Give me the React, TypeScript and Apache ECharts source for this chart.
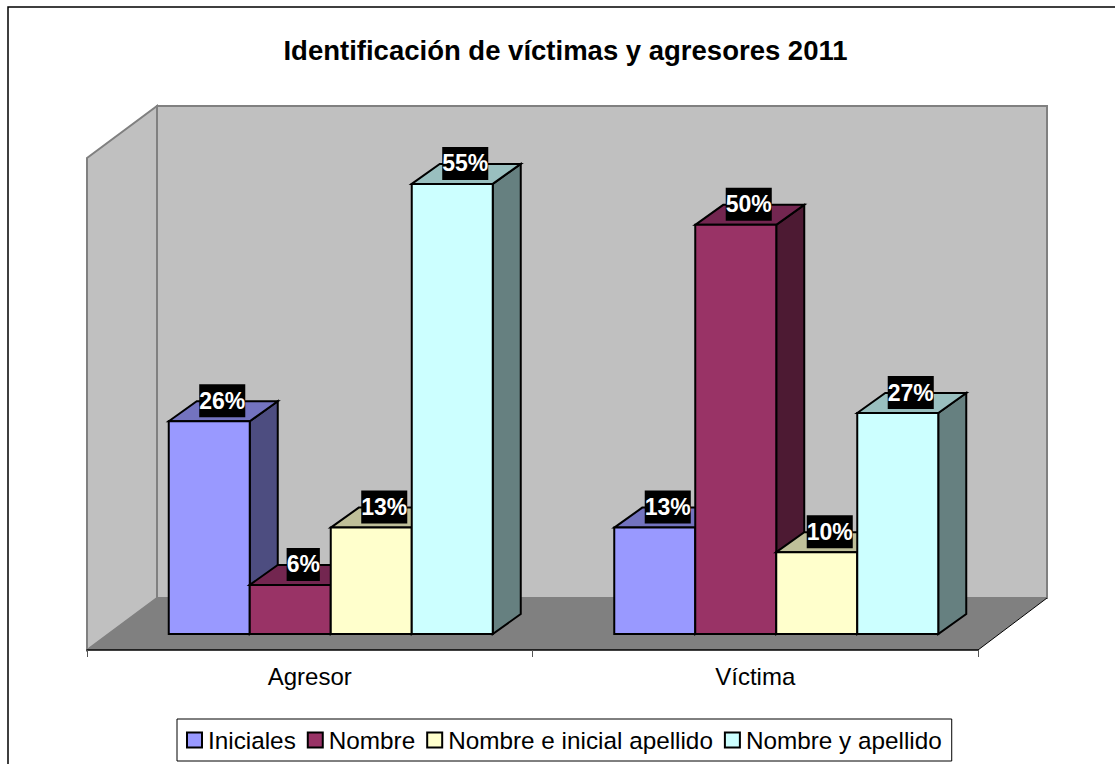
import React, { useEffect, useRef } from "react";
import * as echarts from "echarts";

const title = "Identificación de víctimas y agresores 2011";
const categories = ["Agresor", "Víctima"];
const seriesNames = ["Iniciales", "Nombre", "Nombre e inicial apellido", "Nombre y apellido"];
const iniciales = [26, 13];
const nombre = [6, 50];
const nombreInicial = [13, 10];
const nombreApellido = [55, 27];
const seriesValues = [iniciales, nombre, nombreInicial, nombreApellido];
const colors = ["#9999FF", "#993366", "#FFFFCC", "#CCFFFF"];
const topColors = ["#7373BF", "#732650", "#BFBF99", "#99BFBF"];
const sideColors = ["#4D4D80", "#4D1A33", "#808066", "#668080"];

const FONT = "'Liberation Sans', Arial, sans-serif";
const DX = 28;
const DY = -20;
const BAR_RATIO = 81 / 445.5;

function renderBar(seriesIndex: number) {
  return (_params: any, api: any) => {
    const cat = api.value(0);
    const val = api.value(1);
    const top = api.coord([cat, val]);
    const base = api.coord([cat, 0]);
    const w = api.size([1, 0])[0] * BAR_RATIO;
    const x0 = top[0] + (seriesIndex - 2) * w;
    const x1 = x0 + w;
    const yT = top[1];
    const yB = base[1];
    const stroke = { stroke: "#000", lineWidth: 2, lineJoin: "miter" };
    return {
      type: "group",
      children: [
        {
          type: "polygon",
          shape: { points: [[x1, yT], [x1 + DX, yT + DY], [x1 + DX, yB + DY], [x1, yB]] },
          style: { fill: sideColors[seriesIndex], ...stroke },
        },
        {
          type: "polygon",
          shape: { points: [[x0, yT], [x0 + DX, yT + DY], [x1 + DX, yT + DY], [x1, yT]] },
          style: { fill: topColors[seriesIndex], ...stroke },
        },
        {
          type: "rect",
          shape: { x: x0, y: yT, width: w, height: yB - yT },
          style: { fill: colors[seriesIndex], ...stroke },
        },
        {
          type: "text",
          z2: 100,
          x: (x0 + x1) / 2 + 13,
          y: yT - 20.5,
          style: {
            text: val + "%",
            fill: "#fff",
            font: `bold 23px ${FONT}`,
            align: "center",
            verticalAlign: "middle",
            backgroundColor: "#000",
            padding: [5, 0, 5, 0],
          },
        },
      ],
    };
  };
}

export default function App() {
  const ref = useRef<HTMLDivElement>(null);
  useEffect(() => {
    const chart = echarts.init(ref.current!, undefined, { renderer: "svg" });
    const wall = { fill: "#C0C0C0", stroke: "#808080", lineWidth: 2 };
    chart.setOption({
      animation: false,
      backgroundColor: "#fff",
      title: {
        text: title,
        left: 560.5,
        top: 31,
        textAlign: "center",
        textStyle: { fontFamily: FONT, fontWeight: "bold", fontSize: 27.5, color: "#000" },
      },
      legend: {
        data: seriesNames,
        left: 177,
        top: 719,
        padding: [9, 10, 9, 9],
        itemGap: 11,
        itemWidth: 15,
        itemHeight: 15,
        icon: "rect",
        backgroundColor: "#fff",
        borderColor: "#000",
        borderWidth: 1,
        itemStyle: { borderColor: "#000", borderWidth: 2 },
        textStyle: { fontFamily: FONT, fontSize: 24.3, color: "#000", padding: [0, 0, 0, 1] },
      },
      grid: [
        { left: 87, width: 891, top: 158, height: 492 },
        { left: 108, width: 891, top: 143, height: 491 },
      ],
      xAxis: [
        {
          type: "category",
          gridIndex: 0,
          data: categories,
          axisLine: { show: true, lineStyle: { color: "#000", width: 1.5 } },
          axisTick: { show: true, length: 7, lineStyle: { color: "#555", width: 1 } },
          axisLabel: { fontFamily: FONT, fontSize: 24, color: "#000", margin: 14 },
        },
        {
          type: "category",
          gridIndex: 1,
          data: categories,
          axisLine: { show: false },
          axisTick: { show: false },
          axisLabel: { show: false },
        },
      ],
      yAxis: [
        { type: "value", gridIndex: 0, min: 0, max: 60, show: false },
        { type: "value", gridIndex: 1, min: 0, max: 60, show: false },
      ],
      series: seriesNames.map((name, i) => ({
        name,
        type: "custom",
        xAxisIndex: 1,
        yAxisIndex: 1,
        itemStyle: { color: colors[i] },
        encode: { x: 0, y: 1 },
        data: seriesValues[i].map((v, c) => [c, v]),
        renderItem: renderBar(i),
      })),
      graphic: [
        { type: "rect", z: -5, shape: { x: 8, y: 7, width: 1200, height: 800 }, style: { fill: "#fff", stroke: "#000", lineWidth: 1.5 } },
        { type: "rect", z: -4, shape: { x: 157, y: 106, width: 890, height: 492 }, style: wall },
        { type: "polygon", z: -4, shape: { points: [[87, 158], [157, 106], [157, 598], [87, 650]] }, style: wall },
        { type: "polygon", z: -3, shape: { points: [[87, 650], [157, 598], [1047, 598], [978, 650]] }, style: { fill: "#808080" } },
        { type: "line", z: -3, shape: { x1: 978, y1: 650, x2: 1047, y2: 598 }, style: { stroke: "#000", lineWidth: 1 } },
      ],
    });
    return () => chart.dispose();
  }, []);
  return <div ref={ref} style={{ position: "absolute", left: 0, top: 0, width: 1115, height: 764 }} />;
}
